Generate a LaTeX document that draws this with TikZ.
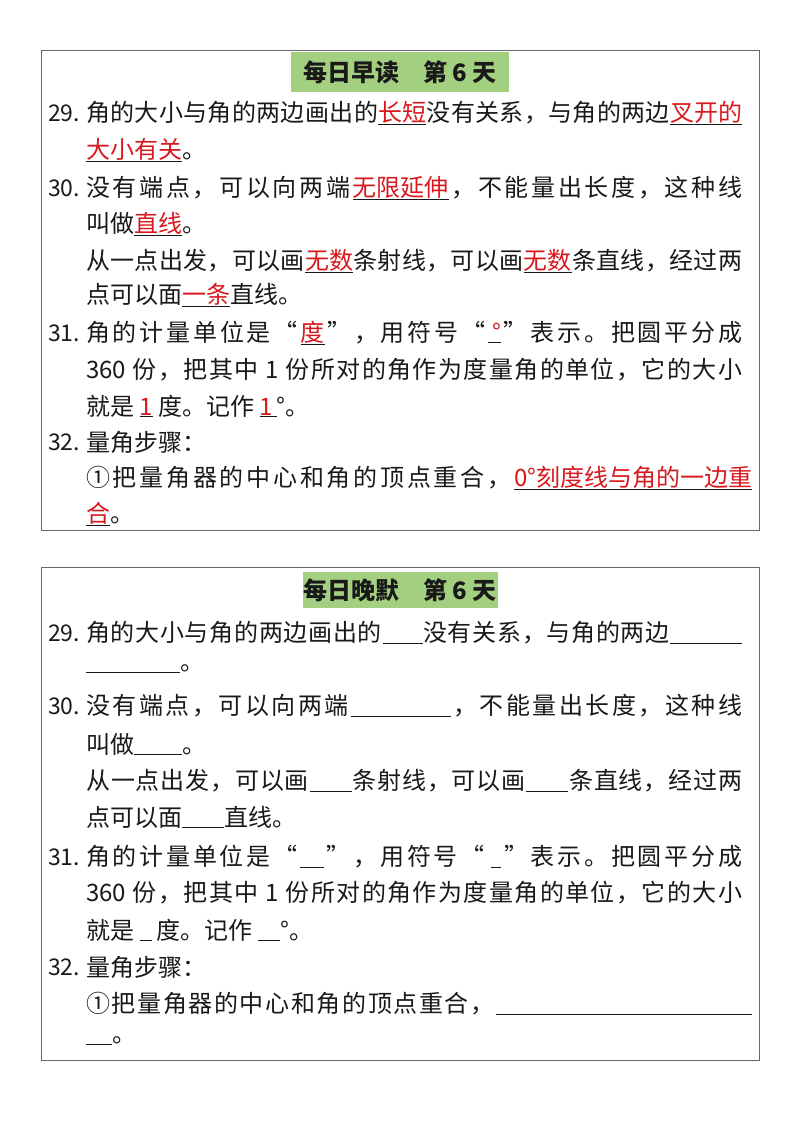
\documentclass[tikz,border=0pt]{standalone}
\usepackage{fontspec}
\setmainfont{Noto Sans CJK SC}
\usepackage{xcolor}
\definecolor{ansred}{RGB}{215,25,30}
\definecolor{ttlgreen}{RGB}{163,208,128}
\definecolor{txt}{RGB}{25,25,25}
\newcommand{\ans}[1]{\underline{\textcolor{ansred}{#1}}}
\newcommand{\bl}[1]{\underline{\hspace{#1}}}
\def\myspA#1{#1\myspB}
\def\myspB#1{\ifx\relax#1\relax\else\hfil#1\expandafter\myspB\fi}
\newcommand{\fl}[2]{\makebox[#1][s]{\myspA#2\relax}}
\tikzset{
  ln/.style={anchor=west,inner sep=0pt,font=\fontsize{24}{26}\selectfont,text=txt},
  num/.style={anchor=west,inner sep=0pt,font=\fontsize{23}{26}\selectfont,text=txt},
  frame/.style={draw=black!60,line width=0.9pt},
  ttl/.style={fill=ttlgreen,inner sep=0pt,font=\fontsize{24}{26}\selectfont\bfseries,text=txt}
}
\begin{document}
\begin{tikzpicture}[x=1pt,y=-1pt]
\path[use as bounding box] (0,0) rectangle (800,1132);
% top box
\draw[frame] (41,50) rectangle (759,530);
\node[ttl,minimum width=218pt,minimum height=40pt] (t1) at (400,72) {每日早读\quad 第 6 天};
\node[num] (n29) at (48,113) {29.};
\node[ln] (a1) at (86,113) {\fl{656pt}{角的大小与角的两边画出的{\ans{长短}}没有关系，与角的两边{\ans{叉开的}}}};
\node[ln] (a2) at (86,150) {\ans{大小有关}。};
\node[num] (n30) at (48,188) {30.};
\node[ln] (a3) at (86,188) {\fl{656pt}{没有端点，可以向两端{\ans{无限延伸}}，不能量出长度，这种线}};
\node[ln] (a4) at (86,224) {叫做\ans{直线}。};
\node[ln] (a5) at (86,261) {\fl{656pt}{从一点出发，可以画{\ans{无数}}条射线，可以画{\ans{无数}}条直线，经过两}};
\node[ln] (a6) at (86,295) {点可以面\ans{一条}直线。};
\node[num] (n31) at (48,333) {31.};
\node[ln] (a7) at (86,333) {\fl{656pt}{角的计量单位是“{\ans{度}}”，用符号“{\ans{\,°}}”表示。把圆平分成}};
\node[ln] (a8) at (86,370) {\fl{656pt}{{360~}份，把其中{~1~}份所对的角作为度量角的单位，它的大小}};
\node[ln] (a9) at (86,406) {就是 \ans{1} 度。记作 \ans{1\,}°。};
\node[num] (n32) at (48,442) {32.};
\node[ln] (a10) at (86,442) {量角步骤：};
\node[ln] (a11) at (86,478) {\fl{666pt}{①把量角器的中心和角的顶点重合，{\ans{0°刻度线与角的一边重}}}};
\node[ln] (a12) at (86,514) {\ans{合}。};
% bottom box
\draw[frame] (41,567) rectangle (759,1060);
\node[ttl,minimum width=195pt,minimum height=36pt] (t2) at (400,590) {每日晚默\quad 第 6 天};
\node[num] (m29) at (48,633) {29.};
\node[ln] (b1) at (86,633) {\fl{656pt}{角的大小与角的两边画出的{\bl{40pt}}没有关系，与角的两边{\bl{72pt}}}};
\node[ln] (b2) at (86,669) {\bl{94pt}。};
\node[num] (m30) at (48,706) {30.};
\node[ln] (b3) at (86,706) {\fl{656pt}{没有端点，可以向两端{\bl{100pt}}，不能量出长度，这种线}};
\node[ln] (b4) at (86,744) {叫做\bl{48pt}。};
\node[ln] (b5) at (86,781) {\fl{656pt}{从一点出发，可以画{\bl{42pt}}条射线，可以画{\bl{42pt}}条直线，经过两}};
\node[ln] (b6) at (86,817) {点可以面\bl{42pt}直线。};
\node[num] (m31) at (48,857) {31.};
\node[ln] (b7) at (86,857) {\fl{656pt}{角的计量单位是“{\bl{24pt}}”，用符号“{\,\bl{10pt}}”表示。把圆平分成}};
\node[ln] (b8) at (86,893) {\fl{656pt}{{360~}份，把其中{~1~}份所对的角作为度量角的单位，它的大小}};
\node[ln] (b9) at (86,930) {就是 \bl{12pt} 度。记作 \bl{22pt}°。};
\node[num] (m32) at (48,967) {32.};
\node[ln] (b10) at (86,967) {量角步骤：};
\node[ln] (b11) at (86,1004) {\fl{666pt}{①把量角器的中心和角的顶点重合，{\bl{256pt}}}};
\node[ln] (b12) at (86,1041) {\bl{26pt}。};
\end{tikzpicture}
\end{document}
